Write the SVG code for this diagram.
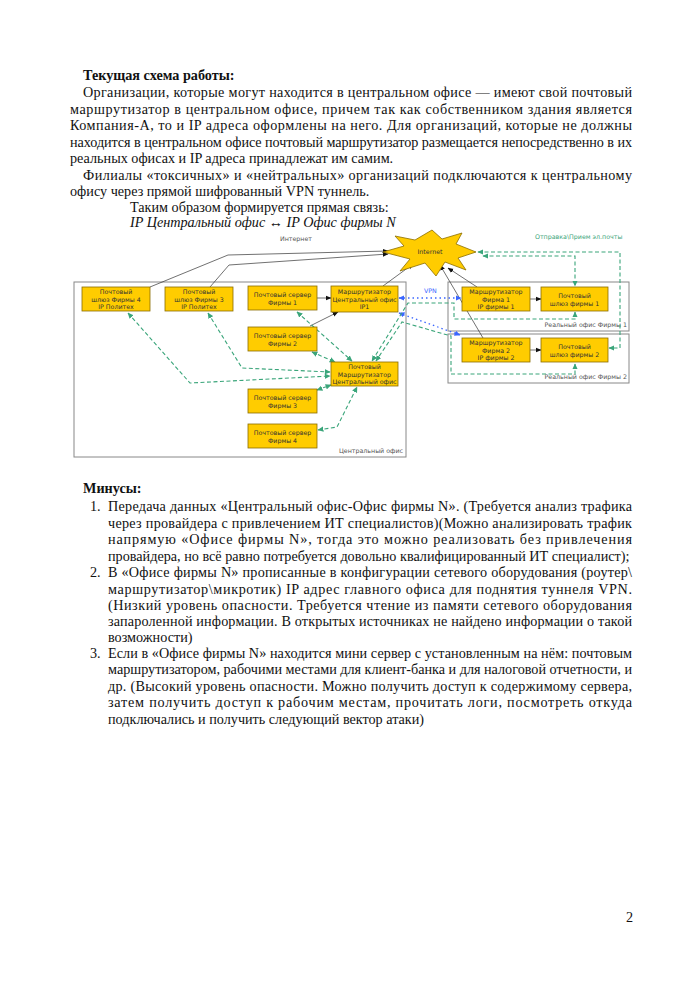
<svg xmlns="http://www.w3.org/2000/svg" width="700" height="991" viewBox="0 0 700 991">
<defs>
<style>
.body{font-family:"Liberation Serif","Times New Roman",serif;font-size:14.2px;fill:#111}
.b{font-weight:bold}
.i{font-style:italic}
.nt{font-family:"DejaVu Sans",sans-serif;font-size:6.3px;fill:#333;text-anchor:middle}
.lbl{font-family:"DejaVu Sans",sans-serif;font-size:6.3px;fill:#555}
.node{fill:#ffcc00;stroke:#8a6d00;stroke-width:0.8}
.cont{fill:none;stroke:#888;stroke-width:1}
.blk{fill:none;stroke:#333;stroke-width:0.7;marker-end:url(#ab)}
.grn{fill:none;stroke:#3aa57a;stroke-width:1.1;stroke-dasharray:4,2.5;marker-end:url(#ag);marker-start:url(#ag)}
.blu{fill:none;stroke:#3a66ff;stroke-width:1.3;stroke-dasharray:1.5,3;marker-end:url(#au);marker-start:url(#au)}
</style>
<marker id="ab" viewBox="0 0 10 10" refX="9" refY="5" markerWidth="6" markerHeight="6" markerUnits="userSpaceOnUse" orient="auto-start-reverse"><path d="M0,1 L10,5 L0,9 z" fill="#111"/></marker>
<marker id="ag" viewBox="0 0 10 10" refX="9" refY="5" markerWidth="6" markerHeight="6" markerUnits="userSpaceOnUse" orient="auto-start-reverse"><path d="M0,0.5 L10,5 L0,9.5 z" fill="#3aa57a"/></marker>
<marker id="au" viewBox="0 0 10 10" refX="9" refY="5" markerWidth="6" markerHeight="6" markerUnits="userSpaceOnUse" orient="auto-start-reverse"><path d="M0,0.5 L10,5 L0,9.5 z" fill="#3a66ff"/></marker>
</defs>
<rect width="700" height="991" fill="#fff"/>

<g id="text-top">
<text class="body b" x="83" y="80">Текущая схема работы:</text>
<text class="body" x="83" y="97" textLength="549" lengthAdjust="spacing">Организации, которые могут находится в центральном офисе — имеют свой почтовый</text>
<text class="body" x="70" y="113.5" textLength="562" lengthAdjust="spacing">маршрутизатор в центральном офисе, причем так как собственником здания является</text>
<text class="body" x="70" y="130" textLength="562" lengthAdjust="spacing">Компания-А, то и IP адреса оформлены на него. Для организаций, которые не должны</text>
<text class="body" x="70" y="147" textLength="562" lengthAdjust="spacing">находится в центральном офисе почтовый маршрутизатор размещается непосредственно в их</text>
<text class="body" x="70" y="163">реальных офисах и IP адреса принадлежат им самим.</text>
<text class="body" x="83" y="180" textLength="549" lengthAdjust="spacing">Филиалы «токсичных» и «нейтральных» организаций подключаются к центральному</text>
<text class="body" x="70" y="196">офису через прямой шифрованный VPN туннель.</text>
<text class="body" x="130" y="212">Таким образом формируется прямая связь:</text>
<text class="body i" x="130" y="227">IP Центральный офис ↔ IP Офис фирмы N</text>
</g>

<g id="containers">
<rect id="central-office" class="cont" x="74" y="282" width="332" height="175"/>
<text class="lbl" x="403" y="453" text-anchor="end">Центральный офис</text>
<rect id="office1" class="cont" x="448" y="282" width="181" height="49"/>
<text class="lbl" x="627" y="327" text-anchor="end">Реальный офис Фирмы 1</text>
<rect id="office2" class="cont" x="448" y="334" width="181" height="49"/>
<text class="lbl" x="627" y="379" text-anchor="end">Реальный офис Фирмы 2</text>
<text class="lbl" x="280" y="241">Интернет</text>
<text class="lbl" x="535" y="239" style="fill:#3aa57a">Отправка\Прием эл.почты</text>
<text class="lbl" x="424" y="293" style="fill:#3a66ff">VPN</text>
</g>

<g id="connectors">
<polyline class="blk" points="150,287 228,255 388,251"/>
<polyline class="blk" points="210,287 229,265 388,254"/>
<line class="blk" x1="383" y1="286" x2="413" y2="264"/>
<line class="blk" x1="317" y1="298" x2="331" y2="298"/>
<line class="blk" x1="310" y1="326" x2="338" y2="312"/>
<line class="blk" x1="477" y1="287" x2="448" y2="268"/>
<line class="blk" x1="483" y1="338" x2="440" y2="265"/>
<line class="blk" x1="530" y1="299" x2="541" y2="299"/>
<line class="blk" x1="530" y1="350" x2="541" y2="350"/>

<line class="blu" x1="399" y1="298" x2="461" y2="298"/>
<line class="blu" x1="399" y1="313" x2="460" y2="335"/>

<polyline class="grn" points="128,313 190,383 330,376"/>
<polyline class="grn" points="208,313 242,368 330,372"/>
<line class="grn" x1="297" y1="312" x2="352" y2="361"/>
<line class="grn" x1="312" y1="352" x2="335" y2="362"/>
<line class="grn" x1="317" y1="390" x2="331" y2="385"/>
<polyline class="grn" points="318,430 337,427 357,387"/>
<polyline class="grn" points="575,312 575,319 454,319 454,303 408,303 372,361"/>
<polyline class="grn" points="575,364 575,374 451,374 451,336 402,322 376,361"/>
<polyline class="grn" points="478,252 620,252 620,348 609,348"/>
<polyline class="grn" points="483,256 575,256 575,286"/>
</g>

<g id="internet">
<polygon class="node" points="383,252 404,246 395,236 415,240 432,230 442,239 462,233 456,244 476,252 458,258 466,270 445,262 436,276 425,263 400,271 410,259"/>
<text class="nt" x="430" y="254">Internet</text>
</g>
<g id="gw4"><rect class="node" x="82" y="287" width="68" height="24"/><text class="nt" x="116" y="294">Почтовый</text><text class="nt" x="116" y="301.5">шлюз Фирмы 4</text><text class="nt" x="116" y="309">IP Политех</text></g>
<g id="gw3"><rect class="node" x="165" y="287" width="68" height="24"/><text class="nt" x="199" y="294">Почтовый</text><text class="nt" x="199" y="301.5">шлюз Фирмы 3</text><text class="nt" x="199" y="309">IP Политех</text></g>
<g id="ms1"><rect class="node" x="248" y="286" width="69" height="24"/><text class="nt" x="282.5" y="297">Почтовый сервер</text><text class="nt" x="282.5" y="304.5">Фирмы 1</text></g>
<g id="rc"><rect class="node" x="331" y="286" width="67" height="26"/><text class="nt" x="364.5" y="294">Маршрутизатор</text><text class="nt" x="364.5" y="301.5">Центральный офис</text><text class="nt" x="364.5" y="309">IP1</text></g>
<g id="ms2"><rect class="node" x="248" y="327" width="69" height="24"/><text class="nt" x="282.5" y="338">Почтовый сервер</text><text class="nt" x="282.5" y="345.5">Фирмы 2</text></g>
<g id="mrc"><rect class="node" x="331" y="362" width="67" height="24"/><text class="nt" x="364.5" y="369">Почтовый</text><text class="nt" x="364.5" y="376.5">Маршрутизатор</text><text class="nt" x="364.5" y="384">Центральный офис</text></g>
<g id="ms3"><rect class="node" x="248" y="389" width="69" height="24"/><text class="nt" x="282.5" y="400">Почтовый сервер</text><text class="nt" x="282.5" y="407.5">Фирмы 3</text></g>
<g id="ms4"><rect class="node" x="248" y="424" width="69" height="24"/><text class="nt" x="282.5" y="435">Почтовый сервер</text><text class="nt" x="282.5" y="442.5">Фирмы 4</text></g>
<g id="rf1"><rect class="node" x="462" y="287" width="68" height="24"/><text class="nt" x="496" y="294">Маршрутизатор</text><text class="nt" x="496" y="301.5">Фирма 1</text><text class="nt" x="496" y="309">IP фирмы 1</text></g>
<g id="gf1"><rect class="node" x="541" y="287" width="67" height="24"/><text class="nt" x="574.5" y="298">Почтовый</text><text class="nt" x="574.5" y="305.5">шлюз фирмы 1</text></g>
<g id="rf2"><rect class="node" x="462" y="338" width="68" height="24"/><text class="nt" x="496" y="345">Маршрутизатор</text><text class="nt" x="496" y="352.5">Фирма 2</text><text class="nt" x="496" y="360">IP фирмы 2</text></g>
<g id="gf2"><rect class="node" x="541" y="338" width="67" height="24"/><text class="nt" x="574.5" y="349">Почтовый</text><text class="nt" x="574.5" y="356.5">шлюз фирмы 2</text></g>

<g id="text-bottom">
<text class="body b" x="83" y="493">Минусы:</text>
<text class="body" x="90" y="511">1.</text>
<text class="body" x="108" y="511" textLength="524" lengthAdjust="spacing">Передача данных «Центральный офис-Офис фирмы N». (Требуется анализ трафика</text>
<text class="body" x="108" y="528" textLength="524" lengthAdjust="spacing">через провайдера с привлечением ИТ специалистов)(Можно анализировать трафик</text>
<text class="body" x="108" y="544" textLength="524" lengthAdjust="spacing">напрямую «Офисе фирмы N», тогда это можно реализовать без привлечения</text>
<text class="body" x="108" y="561">провайдера, но всё равно потребуется довольно квалифицированный ИТ специалист);</text>
<text class="body" x="90" y="577">2.</text>
<text class="body" x="108" y="577" textLength="524" lengthAdjust="spacing">В «Офисе фирмы N» прописанные в конфигурации сетевого оборудования (роутер\</text>
<text class="body" x="108" y="594" textLength="524" lengthAdjust="spacing">маршрутизатор\микротик) IP адрес главного офиса для поднятия туннеля VPN.</text>
<text class="body" x="108" y="610" textLength="524" lengthAdjust="spacing">(Низкий уровень опасности. Требуется чтение из памяти сетевого оборудования</text>
<text class="body" x="108" y="626" textLength="524" lengthAdjust="spacing">запароленной информации. В открытых источниках не найдено информации о такой</text>
<text class="body" x="108" y="642">возможности)</text>
<text class="body" x="90" y="658">3.</text>
<text class="body" x="108" y="658" textLength="524" lengthAdjust="spacing">Если в «Офисе фирмы N» находится мини сервер с установленным на нём: почтовым</text>
<text class="body" x="108" y="674" textLength="524" lengthAdjust="spacing">маршрутизатором, рабочими местами для клиент-банка и для налоговой отчетности, и</text>
<text class="body" x="108" y="691" textLength="524" lengthAdjust="spacing">др. (Высокий уровень опасности. Можно получить доступ к содержимому сервера,</text>
<text class="body" x="108" y="707" textLength="524" lengthAdjust="spacing">затем получить доступ к рабочим местам, прочитать логи, посмотреть откуда</text>
<text class="body" x="108" y="724">подключались и получить следующий вектор атаки)</text>
<text class="body" x="626" y="922">2</text>
</g>
</svg>
